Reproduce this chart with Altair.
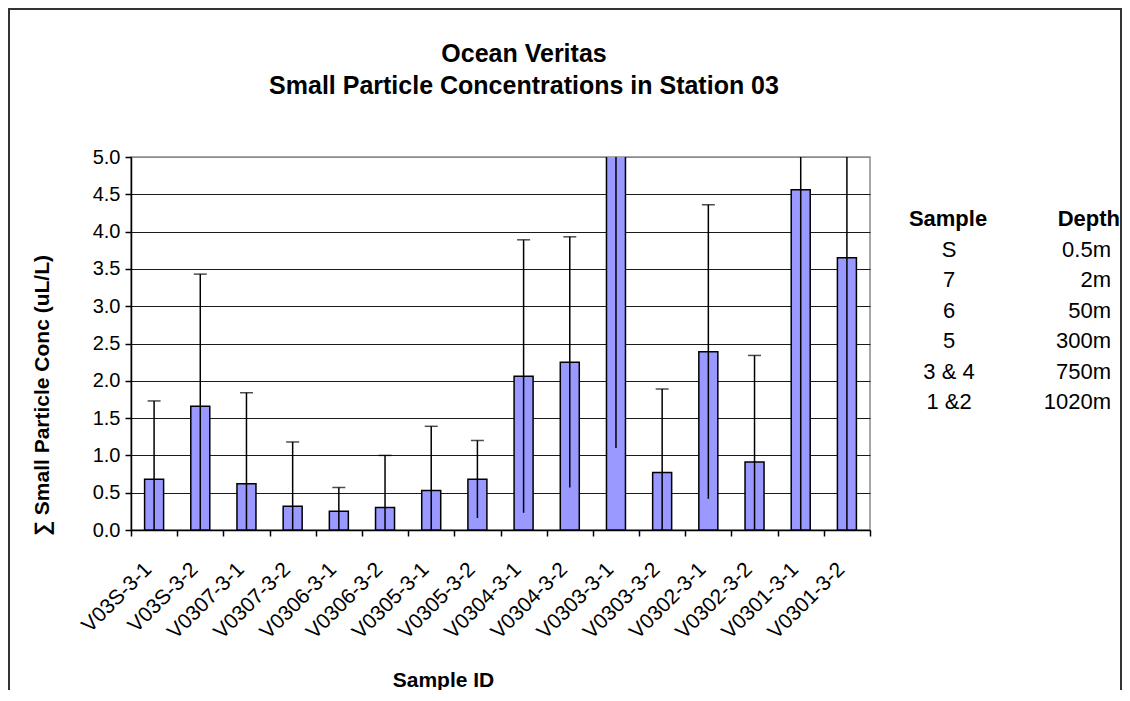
import altair as alt
import pandas as pd

# ---- data ----
samples = ["V03S-3-1", "V03S-3-2", "V0307-3-1", "V0307-3-2", "V0306-3-1", "V0306-3-2",
           "V0305-3-1", "V0305-3-2", "V0304-3-1", "V0304-3-2", "V0303-3-1", "V0303-3-2",
           "V0302-3-1", "V0302-3-2", "V0301-3-1", "V0301-3-2"]
means = [0.68, 1.66, 0.62, 0.32, 0.25, 0.30, 0.53, 0.68, 2.06, 2.25, 6.20, 0.77, 2.39, 0.91, 4.56, 3.65]
errors = [1.05, 1.77, 1.22, 0.86, 0.32, 0.70, 0.86, 0.52, 1.83, 1.68, 5.10, 1.12, 1.97, 1.43, 4.90, 4.20]

y_ticks = [0.0, 0.5, 1.0, 1.5, 2.0, 2.5, 3.0, 3.5, 4.0, 4.5, 5.0]

legend_header = ["Sample", "Depth"]
legend_samples = ["S", "7", "6", "5", "3 & 4", "1 &2"]
legend_depths = ["0.5m", "2m", "50m", "300m", "750m", "1020m"]

title_lines = ["Ocean Veritas", "Small Particle Concentrations in Station 03"]
x_title = "Sample ID"
y_title = "∑ Small Particle Conc  (uL/L)"

FONT = "Liberation Sans"

df = pd.DataFrame({"sample": samples, "mean": means, "err": errors})
df["lo"] = (df["mean"] - df["err"]).clip(lower=0)
df["hi"] = df["mean"] + df["err"]

x_axis = alt.Axis(
    labelAngle=-45, labelAlign="right", labelBaseline="middle",
    labelPadding=30, labelOffset=-6, labelFontSize=21, labelOverlap=False, labelLimit=300,
    tickBand="extent", tickSize=6,
    tickWidth=1.5, domainWidth=1.5, grid=False,
    titleX=312, titleY=150, titleBaseline="middle", titleAlign="center",
    titleFontSize=21, titleFontWeight="bold",
)
x_scale = alt.Scale(paddingInner=0, paddingOuter=0)

y_scale = alt.Scale(domain=[0, 5], nice=False, zero=True)
y_axis = alt.Axis(
    values=y_ticks, format=".1f", labelFontSize=20, labelPadding=5,
    labelOverlap=False, tickCount=11,
    tickSize=6, tickWidth=1.5, domainWidth=1.5,
    grid=True,
    gridColor={"condition": {"test": "datum.value >= 5", "value": "#8a8a8a"}, "value": "#1a1a1a"},
    gridWidth=1,
    titleX=-89, titleY=238, titleAngle=-90, titleBaseline="middle", titleAlign="center",
    titleFontSize=21, titleFontWeight="bold",
)


def xe():
    return alt.X("sample:N", sort=samples, title=x_title, scale=x_scale, axis=x_axis)


def ye(field):
    return alt.Y(field, scale=y_scale, axis=y_axis, title=y_title)


base = alt.Chart(df)

bars = base.mark_bar(size=19, color="#9999FF", stroke="black", strokeWidth=1.5, clip=True).encode(
    x=xe(), y=ye("mean:Q"),
)

rules = base.mark_rule(color="black", strokeWidth=1.5, clip=True).encode(
    x=xe(), y=ye("lo:Q"), y2="hi:Q",
)

caps = base.transform_filter("datum.hi <= 5").mark_tick(
    size=13, thickness=1.5, color="black", clip=True
).encode(
    x=xe(), y=ye("hi:Q"),
)

frame = alt.Chart(pd.DataFrame({"k": [0]})).mark_rect(
    fill=None, stroke="#333333", strokeWidth=2
).encode(
    x=alt.value(-122), x2=alt.value(990), y=alt.value(-148), y2=alt.value(700)
)

title1 = alt.Chart(pd.DataFrame({"t": [title_lines[0]]})).mark_text(
    font=FONT, fontSize=25, fontWeight="bold", align="center", baseline="middle", color="black"
).encode(text="t:N", x=alt.value(393), y=alt.value(-103))

title2 = alt.Chart(pd.DataFrame({"t": [title_lines[1]]})).mark_text(
    font=FONT, fontSize=25, fontWeight="bold", align="center", baseline="middle", color="black"
).encode(text="t:N", x=alt.value(393), y=alt.value(-71))

main = alt.layer(frame, bars, rules, caps, title1, title2)

# ---- side table ----
tab_df = pd.DataFrame({
    "row": list(range(1, len(legend_samples) + 1)),
    "s": legend_samples,
    "d": legend_depths,
})
head_df = pd.DataFrame({"row": [0], "s": [legend_header[0]], "d": [legend_header[1]]})
row_scale = alt.Scale(domain=[0, 6], range=[62, 245])

head_s = alt.Chart(head_df).mark_text(
    font=FONT, fontSize=22, fontWeight="bold", align="center", baseline="middle", color="black"
).encode(text="s:N", x=alt.value(817), y=alt.Y("row:Q", scale=row_scale, axis=None))
head_d = alt.Chart(head_df).mark_text(
    font=FONT, fontSize=22, fontWeight="bold", align="right", baseline="middle", color="black"
).encode(text="d:N", x=alt.value(989), y=alt.Y("row:Q", scale=row_scale, axis=None))
col_s = alt.Chart(tab_df).mark_text(
    font=FONT, fontSize=22, align="center", baseline="middle", color="black"
).encode(text="s:N", x=alt.value(818), y=alt.Y("row:Q", scale=row_scale, axis=None))
col_d = alt.Chart(tab_df).mark_text(
    font=FONT, fontSize=22, align="right", baseline="middle", color="black"
).encode(text="d:N", x=alt.value(980), y=alt.Y("row:Q", scale=row_scale, axis=None))

table = alt.layer(head_s, head_d, col_s, col_d)

chart = alt.layer(main, table).resolve_scale(y="independent").properties(
    width=739,
    height=373,
    padding={"left": 123, "top": 149, "right": 252, "bottom": 160},
    autosize=alt.AutoSizeParams(type="none"),
    background="white",
).configure_axis(
    labelFont=FONT, titleFont=FONT, labelColor="black", titleColor="black",
    tickColor="black", domainColor="black",
).configure_view(
    stroke="#8a8a8a", strokeWidth=1.5
)

chart.save("out.html", embed_options={"renderer": "svg", "actions": False})
